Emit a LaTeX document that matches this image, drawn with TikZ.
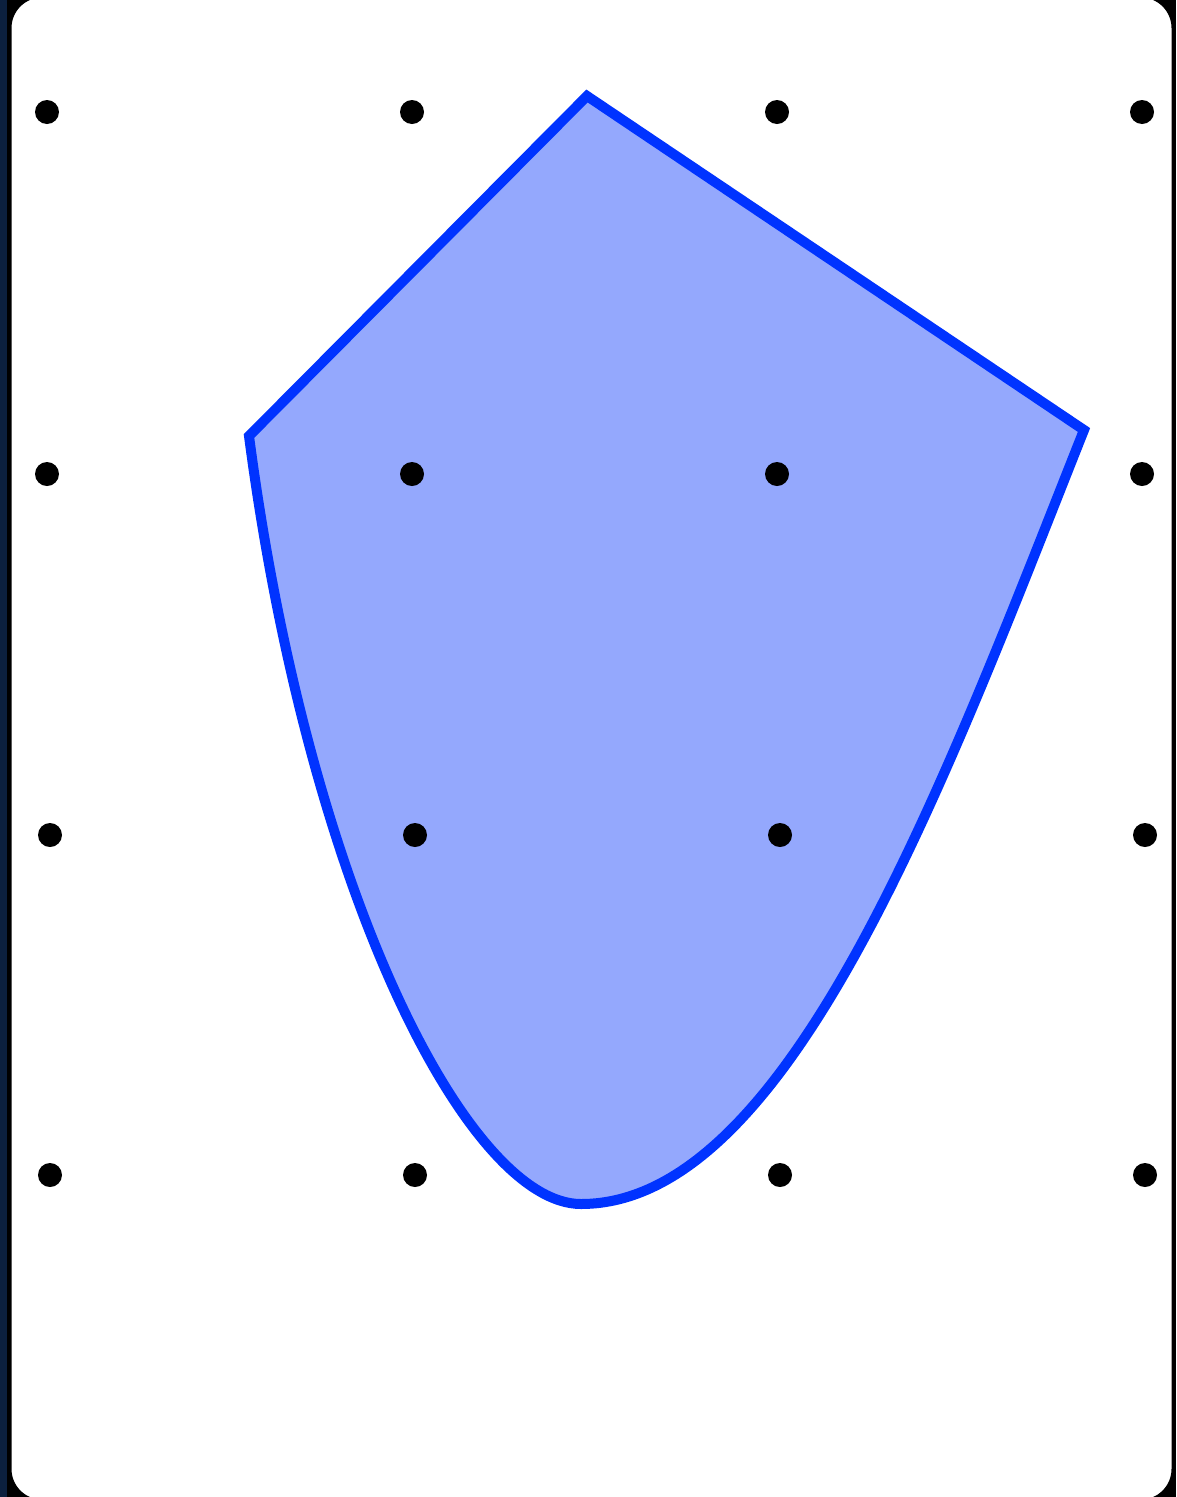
\documentclass[tikz,border=0pt]{standalone}
\usepackage{tikz}
\definecolor{shapeblue}{RGB}{0,51,255}
\definecolor{shapefill}{RGB}{148,168,253}
\definecolor{edgenavy}{RGB}{12,32,62}
\tikzset{
  dot/.style={circle, fill=black, inner sep=0pt, minimum size=24pt},
  card/.style={draw=black, line width=3pt, fill=white, rounded corners=32pt}
}
\begin{document}
\begin{tikzpicture}[x=1pt,y=-1pt]
\useasboundingbox (0,0) rectangle (1176,1497);
\fill[black] (0,0) rectangle (1176,1497);
\fill[edgenavy] (0,0) rectangle (7,1497);
\draw[card] (10,-4) rectangle (1173,1501);
\coordinate (top) at (587,96);
\coordinate (right) at (1084,430);
\coordinate (bottom) at (581,1204);
\coordinate (left) at (249,436);
\draw[shapeblue, fill=shapefill, line width=10pt, line join=miter]
  (left) -- (top) -- (right)
  .. controls (945,780) and (790,1204) .. (bottom)
  .. controls (470,1204) and (310,900) .. cycle;
\node[dot] (d11) at (47,112) {};
\node[dot] (d12) at (412,112) {};
\node[dot] (d13) at (777,112) {};
\node[dot] (d14) at (1142,112) {};
\node[dot] (d21) at (47,474) {};
\node[dot] (d22) at (412,474) {};
\node[dot] (d23) at (777,474) {};
\node[dot] (d24) at (1142,474) {};
\node[dot] (d31) at (50,835) {};
\node[dot] (d32) at (415,835) {};
\node[dot] (d33) at (780,835) {};
\node[dot] (d34) at (1145,835) {};
\node[dot] (d41) at (50,1175) {};
\node[dot] (d42) at (415,1175) {};
\node[dot] (d43) at (780,1175) {};
\node[dot] (d44) at (1145,1175) {};
\end{tikzpicture}
\end{document}
